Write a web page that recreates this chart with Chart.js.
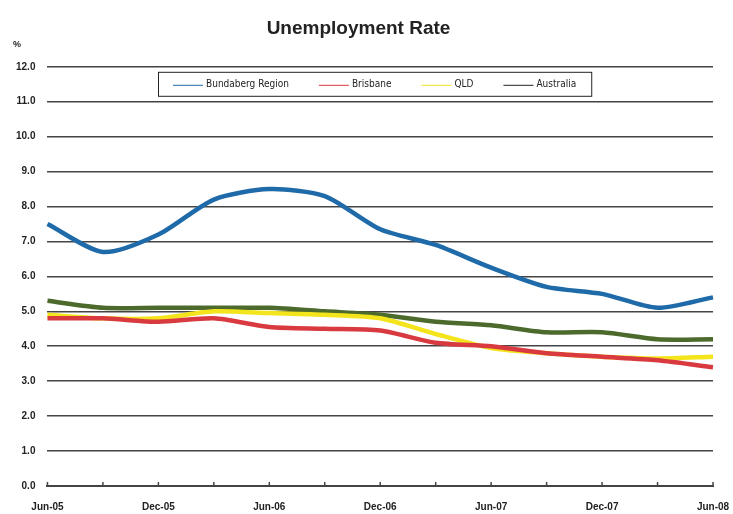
<!DOCTYPE html>
<html>
<head>
<meta charset="utf-8">
<script src="https://cdn.jsdelivr.net/npm/chart.js@4/dist/chart.umd.min.js"></script>
<style>
  html, body { margin: 0; padding: 0; background: #fff; }
  #wrap { width: 733px; height: 514px; }
</style>
</head>
<body>
<div id="wrap"><canvas id="line-chart" width="733" height="514"></canvas></div>
<script>
// quarterly, Jun-05 to Jun-08
var quarters = ['Jun-05','Sep-05','Dec-05','Mar-06','Jun-06','Sep-06','Dec-06','Mar-07','Jun-07','Sep-07','Dec-07','Mar-08','Jun-08'];

var bundaberg = [7.5, 6.7, 7.2, 8.2, 8.5, 8.3, 7.35, 6.9, 6.25, 5.7, 5.5, 5.1, 5.4];
var brisbane  = [4.8, 4.8, 4.7, 4.8, 4.55, 4.5, 4.45, 4.1, 4.0, 3.8, 3.7, 3.6, 3.4];
var qld       = [4.9, 4.8, 4.8, 5.0, 4.95, 4.9, 4.8, 4.35, 3.95, 3.8, 3.7, 3.65, 3.7];
var australia = [5.3, 5.1, 5.1, 5.1, 5.1, 5.0, 4.9, 4.7, 4.6, 4.4, 4.4, 4.2, 4.2];

var seriesNames = ['Bundaberg Region', 'Brisbane', 'QLD', 'Australia'];
var seriesColours = ['#1f6aa8', '#d93a3f', '#f3e41c', '#4b6a2c'];
var legendLineColours = ['#1f6aa8', '#d93a3f', '#f3e41c', '#222'];

var yMin = 0, yMax = 12, yStep = 1;

// "%" over the y labels, the boxed legend inside the plot, ticks on the x axis
var extras = {
  id: 'extras',
  afterDraw: function(chart) {
    var ctx = chart.ctx;
    var area = chart.chartArea;
    ctx.save();
    ctx.fillStyle = '#222';
    ctx.font = 'bold 9px "Liberation Sans", Arial, sans-serif';
    ctx.textAlign = 'left';
    ctx.textBaseline = 'middle';
    ctx.fillText('%', 13, area.top - 22);

    // legend
    ctx.font = '10px "DejaVu Sans Condensed", "Liberation Sans", sans-serif';
    var lineW = 30, gap = 3, itemGap = 30, padX = 15;
    var widths = chart.data.datasets.map(function(d) {
      return lineW + gap + ctx.measureText(d.label).width;
    });
    var total = widths.reduce(function(a, b) { return a + b; }, 0) + itemGap * (widths.length - 1);
    var boxW = total + padX * 2, boxH = 24;
    var bx = Math.round((area.left + area.right) / 2 - boxW / 2) - 6;
    var by = area.top + 5;
    ctx.fillStyle = '#fff';
    ctx.fillRect(bx, by, boxW, boxH);
    ctx.strokeStyle = '#222';
    ctx.lineWidth = 1;
    ctx.strokeRect(bx + 0.5, by + 0.5, boxW, boxH);
    var x = bx + padX, cy = by + boxH / 2 + 1;
    chart.data.datasets.forEach(function(d, i) {
      ctx.strokeStyle = legendLineColours[i];
      ctx.beginPath();
      ctx.moveTo(x, cy + 0.5);
      ctx.lineTo(x + lineW, cy + 0.5);
      ctx.stroke();
      ctx.fillStyle = '#222';
      ctx.fillText(d.label, x + lineW + gap, cy);
      x += widths[i] + itemGap;
    });

    var xs = chart.scales.x;
    ctx.strokeStyle = '#444';
    ctx.lineWidth = 1.5;
    for (var i = 0; i < quarters.length; i++) {
      var px = xs.getPixelForValue(i);
      ctx.beginPath();
      ctx.moveTo(px, area.bottom);
      ctx.lineTo(px, area.bottom - 4);
      ctx.stroke();
    }
    ctx.restore();
  }
};

var mChart = new Chart(document.getElementById('line-chart'), {
  type: 'line',
  data: {
    labels: quarters,
    datasets: [
      { label: seriesNames[0], data: bundaberg, borderColor: seriesColours[0] },
      { label: seriesNames[1], data: brisbane,  borderColor: seriesColours[1] },
      { label: seriesNames[2], data: qld,       borderColor: seriesColours[2] },
      { label: seriesNames[3], data: australia, borderColor: seriesColours[3] }
    ].map(function(d) {
      d.borderWidth = 4.5;
      d.pointRadius = 0;
      d.tension = 0.25;
      d.fill = false;
      return d;
    })
  },
  options: {
    responsive: false,
    animation: false,
    layout: { autoPadding: false, padding: { left: 4, right: 20, top: 6, bottom: 2 } },
    plugins: {
      title: {
        display: true,
        text: 'Unemployment Rate',
        color: '#222',
        font: { family: '"Liberation Sans", Arial, sans-serif', size: 19, weight: 'bold' },
        padding: { top: 11, bottom: 27 }
      },
      legend: { display: false },
      tooltip: { enabled: false }
    },
    scales: {
      x: {
        offset: false,
        afterFit: function(scale) {
          scale.height = 26;
          scale.paddingLeft = 0;
          scale.paddingRight = 0;
        },
        grid: { display: false, drawTicks: false },
        border: { display: true, color: '#444', width: 2 },
        ticks: {
          autoSkip: false,
          maxRotation: 0,
          padding: 15,
          color: '#222',
          font: { family: '"Liberation Sans", Arial, sans-serif', size: 10, weight: 'bold' },
          callback: function(v, i) { return i % 2 === 0 ? quarters[i] : ''; }
        }
      },
      y: {
        min: yMin,
        max: yMax,
        grid: { color: '#444', lineWidth: 1.6, drawTicks: false },
        border: { display: false },
        ticks: {
          stepSize: yStep,
          padding: 12,
          color: '#222',
          font: { family: '"Liberation Sans", Arial, sans-serif', size: 10, weight: 'bold' },
          callback: function(v) { return v.toFixed(1); }
        }
      }
    }
  },
  plugins: [extras]
});
</script>
</body>
</html>
